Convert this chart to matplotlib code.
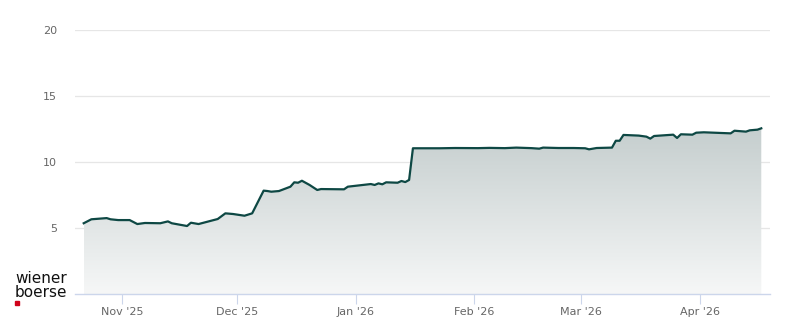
import matplotlib
matplotlib.use("Agg")
import matplotlib.pyplot as plt
import matplotlib.dates as mdates
import numpy as np
import pandas as pd
from matplotlib.patches import Rectangle

dates = ["2025-10-22", "2025-10-24", "2025-10-28", "2025-10-29", "2025-10-31",
         "2025-11-03", "2025-11-05", "2025-11-07", "2025-11-11", "2025-11-13",
         "2025-11-14", "2025-11-18", "2025-11-19", "2025-11-21", "2025-11-26",
         "2025-11-28", "2025-11-30", "2025-12-03", "2025-12-05", "2025-12-08",
         "2025-12-09", "2025-12-10", "2025-12-12", "2025-12-15", "2025-12-16",
         "2025-12-17", "2025-12-18", "2025-12-20", "2025-12-22", "2025-12-23",
         "2025-12-29", "2025-12-30", "2026-01-05", "2026-01-06", "2026-01-07",
         "2026-01-08", "2026-01-09", "2026-01-12", "2026-01-13", "2026-01-14",
         "2026-01-15", "2026-01-16", "2026-01-23", "2026-01-27", "2026-02-02",
         "2026-02-05", "2026-02-09", "2026-02-12", "2026-02-16", "2026-02-18",
         "2026-02-19", "2026-02-23", "2026-02-27", "2026-03-02", "2026-03-03",
         "2026-03-05", "2026-03-09", "2026-03-10", "2026-03-11", "2026-03-12",
         "2026-03-16", "2026-03-18", "2026-03-19", "2026-03-20", "2026-03-25",
         "2026-03-26", "2026-03-27", "2026-03-30", "2026-03-31", "2026-04-02",
         "2026-04-09", "2026-04-10", "2026-04-13", "2026-04-14", "2026-04-16",
         "2026-04-17"]
prices = [5.36, 5.66, 5.75, 5.66, 5.60,
          5.60, 5.30, 5.38, 5.36, 5.50,
          5.36, 5.15, 5.40, 5.30, 5.68,
          6.11, 6.06, 5.93, 6.11, 7.83,
          7.80, 7.75, 7.80, 8.13, 8.46,
          8.43, 8.58, 8.26, 7.88, 7.95,
          7.93, 8.13, 8.33, 8.26, 8.38,
          8.31, 8.46, 8.43, 8.56, 8.48,
          8.64, 11.04, 11.04, 11.06, 11.05,
          11.07, 11.05, 11.09, 11.05, 11.01,
          11.09, 11.06, 11.06, 11.04, 10.96,
          11.06, 11.09, 11.61, 11.61, 12.05,
          12.00, 11.92, 11.77, 11.97, 12.07,
          11.82, 12.10, 12.07, 12.22, 12.25,
          12.17, 12.37, 12.30, 12.40, 12.45,
          12.55]

y_ticks = [5, 10, 15, 20]
x_ticks = ["2025-11-01", "2025-12-01", "2026-01-01", "2026-02-01", "2026-03-01", "2026-04-01"]
x_tick_labels = ["Nov '25", "Dec '25", "Jan '26", "Feb '26", "Mar '26", "Apr '26"]

W, H = 800, 324
fig = plt.figure(figsize=(W / 100, H / 100), dpi=100)
left, right, top, bottom = 75, 770, 30, 294
ax = fig.add_axes([left / W, (H - bottom) / H, (right - left) / W, (bottom - top) / H])

x = mdates.date2num(pd.to_datetime(dates))
y = np.array(prices)

x0 = mdates.date2num(pd.Timestamp("2025-11-01")) - (122 - left) / 3.828
x1 = mdates.date2num(pd.Timestamp("2025-11-01")) + (right - 122) / 3.828
ax.set_xlim(x0, x1)
ax.set_ylim(0, 20)

# gradient fill
poly = ax.fill_between(x, y, 0, color="none", lw=0)
ymax = y.max()
grad = np.linspace(0, 1, 256).reshape(-1, 1)
c_top = np.array([197, 206, 206]) / 255
c_bot = np.array([246, 247, 247]) / 255
img = c_bot + (c_top - c_bot) * grad
img = img.reshape(256, 1, 3)
im = ax.imshow(img, extent=[x.min(), x.max(), 0, ymax], origin="lower",
               aspect="auto", zorder=1, interpolation="bilinear")
paths = poly.get_paths()
im.set_clip_path(paths[0], transform=ax.transData)

ax.plot(x, y, color="#0e4844", lw=1.6, zorder=3, solid_joinstyle="round")

# grid
for v in y_ticks:
    ax.axhline(v, color="#e6e6e6", lw=0.9, zorder=0)

for s in ["top", "right", "left"]:
    ax.spines[s].set_visible(False)
ax.spines["bottom"].set_color("#ccd6eb")
ax.spines["bottom"].set_linewidth(1.0)
ax.spines["bottom"].set_zorder(4)

ax.set_yticks(y_ticks)
ax.set_yticklabels([str(v) for v in y_ticks])
ax.tick_params(axis="y", length=0, pad=13, labelsize=8, labelcolor="#666666")
ax.set_xticks(mdates.date2num(pd.to_datetime(x_ticks)))
ax.set_xticklabels(x_tick_labels)
ax.tick_params(axis="x", length=7.5, width=0.8, color="#ccd6eb", pad=2,
               labelsize=8, labelcolor="#666666")

# logo
fig.text(15 / W, (H - 283) / H, "wiener", fontsize=11, color="#111111", ha="left",
         va="baseline", family="DejaVu Sans")
fig.text(15 / W, (H - 297) / H, "boerse", fontsize=11, color="#111111", ha="left",
         va="baseline", family="DejaVu Sans")
fig.patches.append(Rectangle((15 / W, (H - 305) / H), 4 / W, 4 / H,
                             transform=fig.transFigure, color="#d0021b"))

fig.savefig("out.png", dpi=100)
